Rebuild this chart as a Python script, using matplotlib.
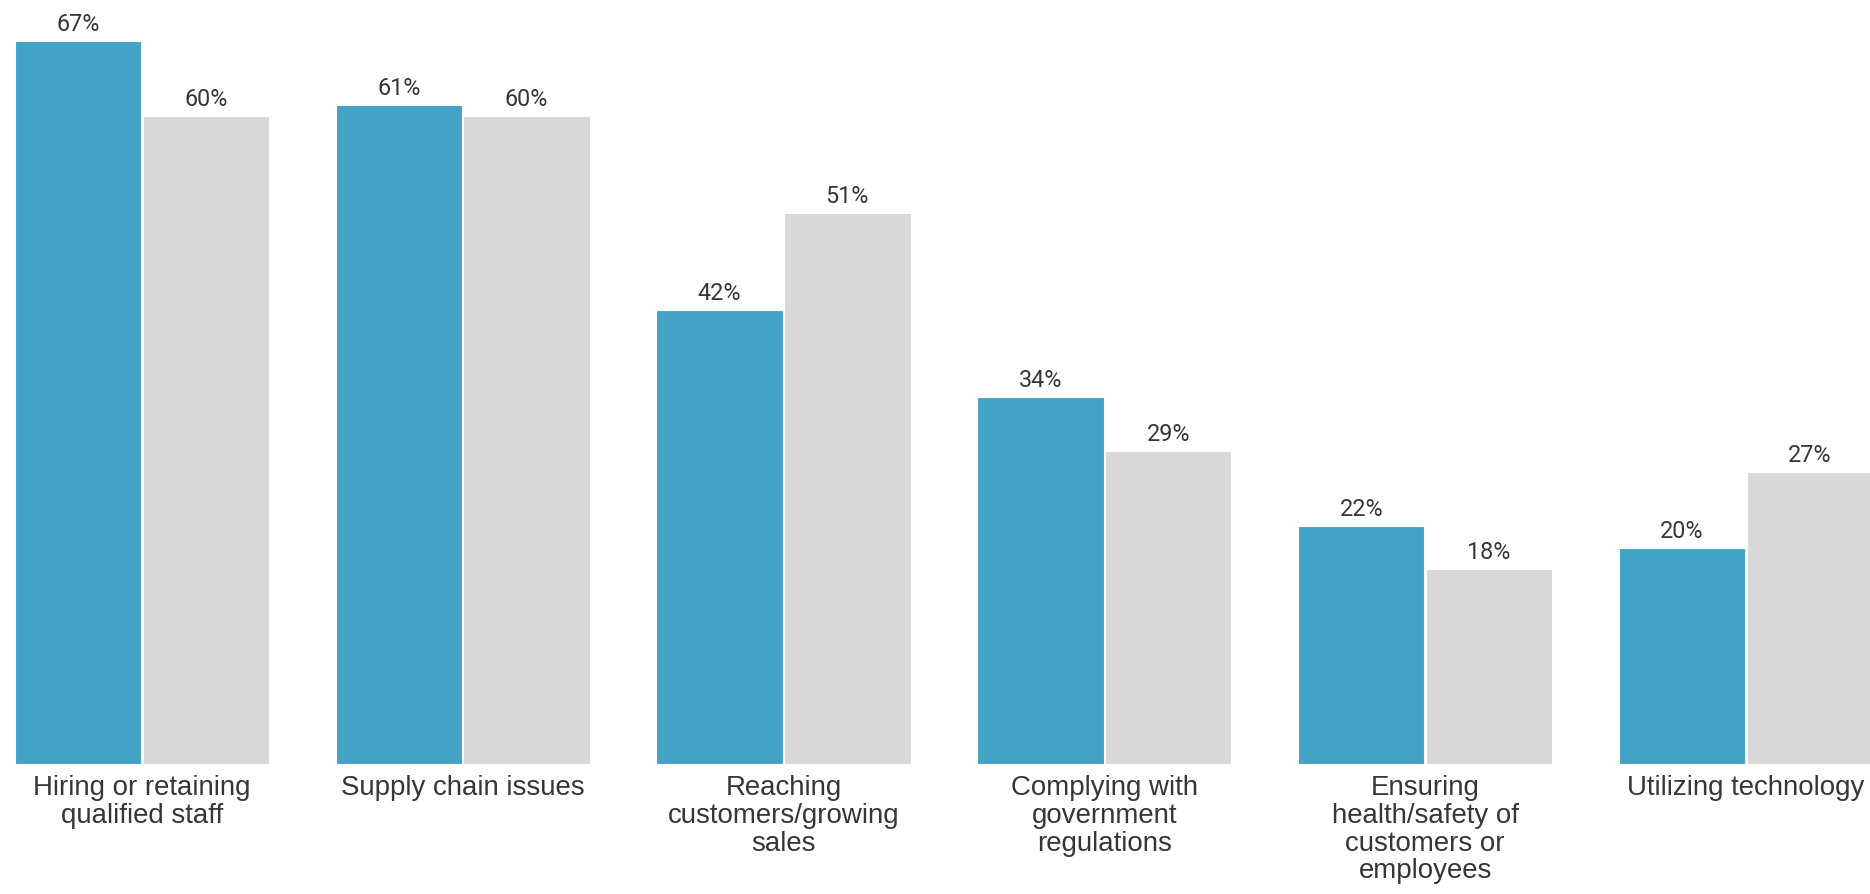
import matplotlib.pyplot as plt
import numpy as np

categories = [
    "Hiring or retaining\nqualified staff",
    "Supply chain issues",
    "Reaching\ncustomers/growing\nsales",
    "Complying with\ngovernment\nregulations",
    "Ensuring\nhealth/safety of\ncustomers or\nemployees",
    "Utilizing technology",
]
series_blue = [67, 61, 42, 34, 22, 20]
series_gray = [60, 60, 51, 29, 18, 27]

blue = "#42a3c7"
gray = "#d8d8d8"
text_color = "#363636"

fig = plt.figure(figsize=(18.7, 8.95), dpi=100)
ax = fig.add_axes([0, 130.5 / 895, 1, 764.5 / 895])

x = np.arange(len(categories))
w = 0.394
b1 = ax.bar(x - w / 2 - 0.002, series_blue, w, color=blue, edgecolor="white", linewidth=0.8)
b2 = ax.bar(x + w / 2 + 0.002, series_gray, w, color=gray, edgecolor="white", linewidth=0.8)

for bars, vals in [(b1, series_blue), (b2, series_gray)]:
    for rect, v in zip(bars, vals):
        ax.annotate(f"{v}%", (rect.get_x() + rect.get_width() / 2, v),
                    xytext=(0, 6), textcoords="offset pixels",
                    ha="center", va="bottom", fontsize=16.8,
                    family="Roboto", color=text_color)

for xi, lab in zip(x, categories):
    ax.annotate(lab, (xi, 0), xytext=(0, -11), textcoords="offset pixels",
                ha="center", va="top", fontsize=19.9, family="Liberation Sans",
                color=text_color, linespacing=1.08, annotation_clip=False)

ax.set_xlim(-0.4423, -0.4423 + 1870 / 320.8)
ax.set_ylim(0, 764.5 / 10.79)
ax.axis("off")

fig.savefig("out.png", dpi=100)
